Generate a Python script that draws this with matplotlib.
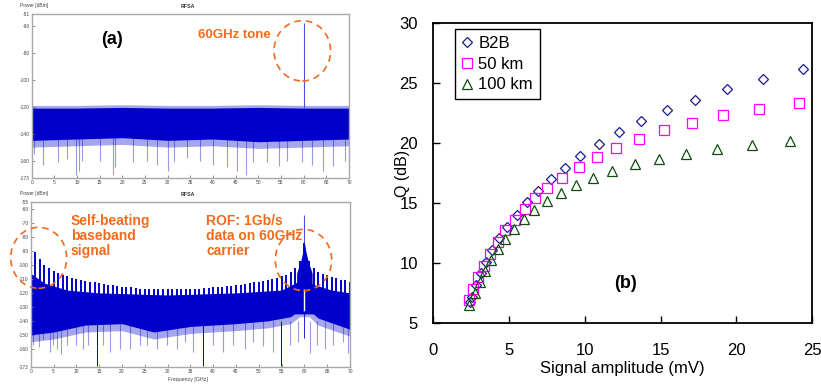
import numpy as np
import matplotlib
matplotlib.use("Agg")
import matplotlib.pyplot as plt
from matplotlib.patches import Ellipse

plt.rcParams['font.family'] = ['Liberation Sans', 'DejaVu Sans']

W, H = 821, 389

# ---- panel (a): 60 GHz tone spectrum ----
a_band_freq = [0, 10, 20, 30, 40, 50, 60, 70]
a_band_top = [-121, -121, -120.5, -121, -121, -120.5, -121, -121]
a_band_bottom = [-145, -144, -143, -145, -144, -146, -145, -144]
a_tone_freq = 60
a_tone_level = -58
a_spike_freq = [0.4, 2.6, 5.9, 7.7, 9.8, 10.4, 11.2, 15.1, 18.0, 18.4, 22.4, 25.4, 27.6,
                30.1, 31.3, 34.2, 37.1, 40.1, 43.0, 45.4, 47.3, 48.9, 51.8, 54.6, 56.3,
                59.6, 61.8, 64.3, 66.5, 69.1]
a_spike_level = [-155, -163, -161, -159, -171, -168, -160, -160, -171, -165, -161, -160, -163,
                 -168, -160, -158, -160, -163, -165, -168, -171, -161, -161, -164, -160,
                 -161, -163, -168, -164, -160]

# ---- panel (b): ROF 1 Gb/s data on 60 GHz carrier ----
b_peak_freq = list(range(0, 71))
b_peak_level = [-81, -91, -96, -100, -102, -104, -105.5, -107, -108, -109,
                -110, -111, -111.5, -112, -112.5, -113, -113.5, -114, -114.5, -115,
                -115.5, -116, -116, -116.5, -117, -117, -117, -117.5, -117.5, -117.5,
                -117.5, -117.5, -117.5, -117.5, -117, -117, -117, -117, -116.5, -116.5,
                -116, -116, -115.5, -115, -115, -114.5, -114, -113.5, -113, -112.5,
                -112, -111.5, -111, -110, -109, -108, -107, -105, -102, -97,
                -84, -97, -102, -105, -106.5, -107.5, -108.5, -109.5, -110.5, -111, -112]
b_band_freq = [0, 3, 8, 15, 30, 45, 55, 58, 60, 62, 66, 70]
b_band_top = [-106, -113, -118, -120, -121.5, -120, -118, -113, -110, -114, -118, -120]
b_band_bottom_freq = [0, 5, 12, 20, 27, 35, 45, 52, 57, 59, 61, 63, 70]
b_band_bottom = [-150, -148, -143, -142, -148, -144, -142, -140, -137, -132, -132, -138, -146]
b_blob_freq = [58.3, 59.2, 59.7, 60, 60.3, 60.8, 61.7]
b_blob_level = [-106, -97, -90, -84, -90, -97, -106]
b_carrier_level = -64
b_spike_freq = [0.6, 1.9, 2.8, 4.2, 4.8, 5.8, 6.6, 7.9, 9.9, 11.5, 12.6, 15.9, 17.4, 19.6,
                21.8, 24.0, 25.4, 27.6, 29.8, 32.0, 33.8, 35.6, 40.0, 42.2, 44.4, 47.0,
                48.8, 51.0, 53.2, 56.8, 58.7, 61.2, 62.7, 64.5, 66.3, 68.5, 69.6]
b_spike_level = [-157, -159, -153, -162, -157, -160, -164, -157, -157, -160, -157, -157, -162,
                 -160, -160, -157, -157, -160, -157, -160, -155, -162, -157, -162, -157,
                 -160, -155, -158, -162, -157, -155, -163, -157, -160, -157, -155, -163]
b_deep_freq = [14.5, 37.8, 54.9]
b_deep_level = [-172, -172, -172]

# ---- panel (Q vs signal amplitude) ----
b2b_amp = [2.45, 2.53, 2.82, 3.15, 3.48, 3.85, 4.34, 4.89, 5.50, 6.16, 6.89, 7.77, 8.71,
           9.71, 10.94, 12.24, 13.73, 15.43, 17.28, 19.39, 21.74, 24.43]
b2b_q = [6.8, 7.2, 8.2, 9.2, 10.1, 11.1, 12.1, 13.0, 14.0, 15.1, 16.0, 17.0, 17.9,
         18.9, 19.9, 20.9, 21.8, 22.7, 23.6, 24.5, 25.3, 26.15]
km50_amp = [2.38, 2.64, 2.97, 3.37, 3.76, 4.27, 4.75, 5.37, 6.03, 6.73, 7.53, 8.47, 9.64,
            10.78, 12.08, 13.58, 15.23, 17.08, 19.15, 21.50, 24.14]
km50_q = [6.94, 7.88, 8.82, 9.79, 10.76, 11.73, 12.73, 13.62, 14.51, 15.39, 16.28, 17.11,
          18.03, 18.80, 19.61, 20.35, 21.05, 21.66, 22.29, 22.85, 23.32]
km100_amp = [2.38, 2.73, 3.08, 3.43, 3.81, 4.27, 4.75, 5.35, 5.96, 6.67, 7.50, 8.43, 9.42,
             10.56, 11.82, 13.31, 14.90, 16.68, 18.75, 21.04, 23.58]
km100_q = [6.55, 7.5, 8.4, 9.33, 10.24, 11.19, 12.05, 12.88, 13.71, 14.46, 15.2, 15.87,
           16.54, 17.12, 17.67, 18.23, 18.7, 19.11, 19.47, 19.81, 20.14]

blue = '#0000cc'
orange = '#f26b1d'
grey = '#a8a8a8'


def px(x, y):
    return x / W, 1 - y / H


fig = plt.figure(figsize=(W / 100, H / 100), dpi=100)


def spectrum_axes(rect, ylim, yticks, ylabels):
    ax = fig.add_axes(rect)
    ax.set_xlim(0, 70)
    ax.set_ylim(*ylim)
    ax.set_xticks(range(0, 71, 5))
    ax.set_yticks(yticks)
    ax.set_yticklabels(ylabels)
    ax.tick_params(direction='in', length=2, width=0.5, labelsize=3.5,
                   labelcolor='#444444', color='#666666', pad=1.5)
    for s in ax.spines.values():
        s.set_color(grey)
        s.set_linewidth(1.0)
    return ax


# panel (a)
ax_a = spectrum_axes([31.7 / W, 1 - 178 / H, 317.3 / W, 164 / H], (-173, -51),
                     [-51, -60, -80, -100, -120, -140, -160, -173],
                     ['-51', '-60', '-80', '-100', '-120', '-140', '-160', '-173'])
ax_a.fill_between(a_band_freq, np.array(a_band_top) + 2, np.array(a_band_bottom) - 5,
                  color=blue, alpha=0.35, lw=0)
ax_a.fill_between(a_band_freq, a_band_top, a_band_bottom, color=blue, lw=0)
ax_a.vlines(a_spike_freq, -140, a_spike_level, color=blue, alpha=0.4, lw=0.8)
ax_a.vlines(a_tone_freq, -121, a_tone_level, color='#5050e0', lw=0.8)

# panel (b)
ax_b = spectrum_axes([30.7 / W, 1 - 367 / H, 319.3 / W, 165 / H], (-173, -55),
                     [-55, -60, -70, -80, -90, -100, -110, -120, -130, -140, -150, -160, -173],
                     ['-55', '-60', '-70', '-80', '-90', '-100', '-110', '-120', '-130',
                      '-140', '-150', '-160', '-173'])
ax_b.fill_between(b_band_bottom_freq, -125, np.array(b_band_bottom) - 5,
                  color=blue, alpha=0.35, lw=0)
ax_b.fill_between(b_band_freq, b_band_top, -135, color=blue, lw=0)
ax_b.fill_between(b_band_bottom_freq, -125, b_band_bottom, color=blue, lw=0)
ax_b.vlines(b_peak_freq, -125, b_peak_level, color=blue, lw=1.4)
ax_b.fill_between(b_blob_freq, b_blob_level, -118, color=blue, lw=0)
ax_b.vlines(b_spike_freq, -140, b_spike_level, color=blue, alpha=0.4, lw=0.8)
ax_b.vlines(b_deep_freq, -140, b_deep_level, color=blue, lw=0.7)
ax_b.vlines(60, -117, -133, color='white', lw=1.0)
ax_b.vlines(60, -84, b_carrier_level, color='#5050e0', lw=0.8)
ax_b.vlines(60, -133, -152, color=blue, lw=0.6)

# small instrument texts
for y_pow, y_title in [(6, 6), (193, 195)]:
    fig.text(*px(20, y_pow), 'Power [dBm]', fontsize=3.5, color='#444444', va='center')
    fig.text(*px(188, y_title), 'RFSA', fontsize=3.8, color='#333333', va='center',
             ha='center', fontweight='bold')
fig.text(*px(188, 380), 'Frequency [GHz]', fontsize=3.8, color='#444444',
         va='center', ha='center')

# annotations
fig.text(*px(111.5, 40), '(a)', fontsize=13, fontweight='bold', ha='center', va='center')
fig.text(*px(198, 35), '60GHz tone', fontsize=9.5, fontweight='bold', color=orange,
         va='center')
fig.text(*px(70.7, 236), 'Self-beating\nbaseband\nsignal', fontsize=10, fontweight='bold',
         color=orange, va='center', linespacing=1.05)
fig.text(*px(206, 236), 'ROF: 1Gb/s\ndata on 60GHz\ncarrier', fontsize=10, fontweight='bold',
         color=orange, va='center', linespacing=1.05)
for cx, cy, rx, ry in [(302.3, 50.8, 28.3, 30.2), (38.7, 257.8, 28, 30.5),
                       (303.5, 260, 28.2, 30.7)]:
    fig.add_artist(Ellipse(px(cx, cy), 2 * rx / W, 2 * ry / H, transform=fig.transFigure,
                           fill=False, ec=orange, lw=1.2, ls=(0, (4, 3))))

# right panel: Q vs signal amplitude
ax_q = fig.add_axes([433.3 / W, 1 - 323.3 / H, 378.7 / W, 300.6 / H])
ax_q.plot(b2b_amp, b2b_q, 'D', ms=5.5, mfc='none', mec='#1a1a8c', mew=0.9, ls='none',
          label='B2B')
ax_q.plot(km50_amp, km50_q, 's', ms=7, mfc='none', mec='#ff00ff', mew=0.9, ls='none',
          label='50 km')
ax_q.plot(km100_amp, km100_q, '^', ms=7.5, mfc='none', mec='#0f4d0f', mew=0.9, ls='none',
          label='100 km')
ax_q.set_xlim(0, 25)
ax_q.set_ylim(5, 30)
ax_q.set_xticks(range(0, 26, 5))
ax_q.set_yticks(range(5, 31, 5))
ax_q.tick_params(direction='in', length=5, width=1, labelsize=12)
ax_q.tick_params(axis='x', pad=14)
ax_q.tick_params(axis='y', pad=11)
for s in ax_q.spines.values():
    s.set_linewidth(1.3)
ax_q.set_xlabel('Signal amplitude (mV)', fontsize=12, labelpad=2)
ax_q.set_ylabel('Q (dB)', fontsize=11.5)
ax_q.yaxis.set_label_coords(-0.062, 0.5)
ax_q.text(0.507, 0.132, '(b)', transform=ax_q.transAxes, fontsize=13, fontweight='bold',
          ha='center', va='center')
leg = ax_q.legend(loc='upper left', bbox_to_anchor=(0.057, 0.979), borderaxespad=0,
                  fontsize=12, fancybox=False, edgecolor='black', framealpha=1,
                  handlelength=0.7, handletextpad=0.3, borderpad=0.4, labelspacing=0.35)
leg.get_frame().set_linewidth(1.0)

fig.savefig('out.png', dpi=100)
